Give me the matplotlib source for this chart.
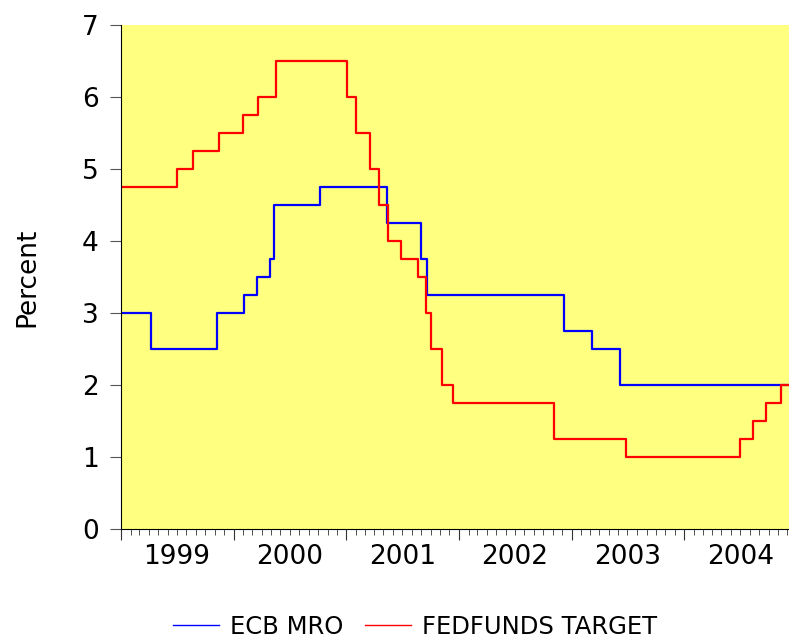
import pandas as pd
import matplotlib.pyplot as plt
import matplotlib.dates as mdates
from matplotlib.lines import Line2D

# policy rate change dates and new levels (as drawn)
ecb_dates = ['1999-01-01', '1999-04-09', '1999-11-08', '2000-02-04', '2000-03-17',
             '2000-04-28', '2000-05-10', '2000-10-06', '2001-05-11', '2001-08-31',
             '2001-09-18', '2002-12-06', '2003-03-07', '2003-06-06']
ecb_rates = [3.0, 2.5, 3.0, 3.25, 3.5, 3.75, 4.5, 4.75, 4.25, 3.75, 3.25, 2.75, 2.5, 2.0]

fed_dates = ['1999-01-01', '1999-06-30', '1999-08-24', '1999-11-16', '2000-02-02',
             '2000-03-21', '2000-05-16', '2001-01-03', '2001-01-31', '2001-03-20',
             '2001-04-18', '2001-05-15', '2001-06-27', '2001-08-21', '2001-09-17',
             '2001-10-02', '2001-11-06', '2001-12-11', '2002-11-06', '2003-06-25',
             '2004-06-30', '2004-08-10', '2004-09-21', '2004-11-10']
fed_rates = [4.75, 5.0, 5.25, 5.5, 5.75, 6.0, 6.5, 6.0, 5.5, 5.0, 4.5, 4.0, 3.75,
             3.5, 3.0, 2.5, 2.0, 1.75, 1.25, 1.0, 1.25, 1.5, 1.75, 2.0]

years = ['1999', '2000', '2001', '2002', '2003', '2004']
start = pd.Timestamp('1999-01-01')
end = pd.Timestamp('2004-12-06')


def steps(dates, rates):
    x = list(pd.to_datetime(dates)) + [end]
    y = list(rates) + [rates[-1]]
    return x, y


plt.rcParams['font.family'] = 'DejaVu Sans'
fig = plt.figure(figsize=(7.89, 6.44), dpi=100)
ax = fig.add_axes([121 / 789, 1 - 529 / 644, 1 - 121 / 789, (529 - 25) / 644])
ax.set_facecolor('#ffff80')

x, y = steps(ecb_dates, ecb_rates)
ax.plot(x, y, drawstyle='steps-post', color='#0000ff', lw=1.6)
x, y = steps(fed_dates, fed_rates)
ax.plot(x, y, drawstyle='steps-post', color='#ff0000', lw=1.6)

ax.set_xlim(start, end)
ax.set_ylim(0, 7)
ax.set_yticks(range(8))
ax.set_ylabel('Percent', fontsize=19, labelpad=30)

ax.xaxis.set_major_locator(mdates.YearLocator())
ax.xaxis.set_major_formatter(plt.NullFormatter())
ax.xaxis.set_minor_locator(mdates.MonthLocator())
for yr in years:
    ax.text(pd.Timestamp(yr + '-07-01'), -0.03, yr, transform=ax.get_xaxis_transform(),
            ha='center', va='top', fontsize=19)

ax.tick_params(axis='y', labelsize=19, length=8, color='#555555', pad=8)
ax.tick_params(axis='x', which='major', length=8, color='#333333')
ax.tick_params(axis='x', which='minor', length=4, color='#333333')
for s in ['top', 'right']:
    ax.spines[s].set_visible(False)

handles = [Line2D([], [], color='#0000ff', lw=1), Line2D([], [], color='#ff0000', lw=1)]
fig.legend(handles, ['ECB MRO', 'FEDFUNDS TARGET'], loc='center',
           bbox_to_anchor=(415 / 789, 1 - 627 / 644), ncol=2, frameon=False,
           fontsize=17.5, handlelength=1.9, handletextpad=0.45, columnspacing=0.9)

fig.savefig('out.png', dpi=100)
